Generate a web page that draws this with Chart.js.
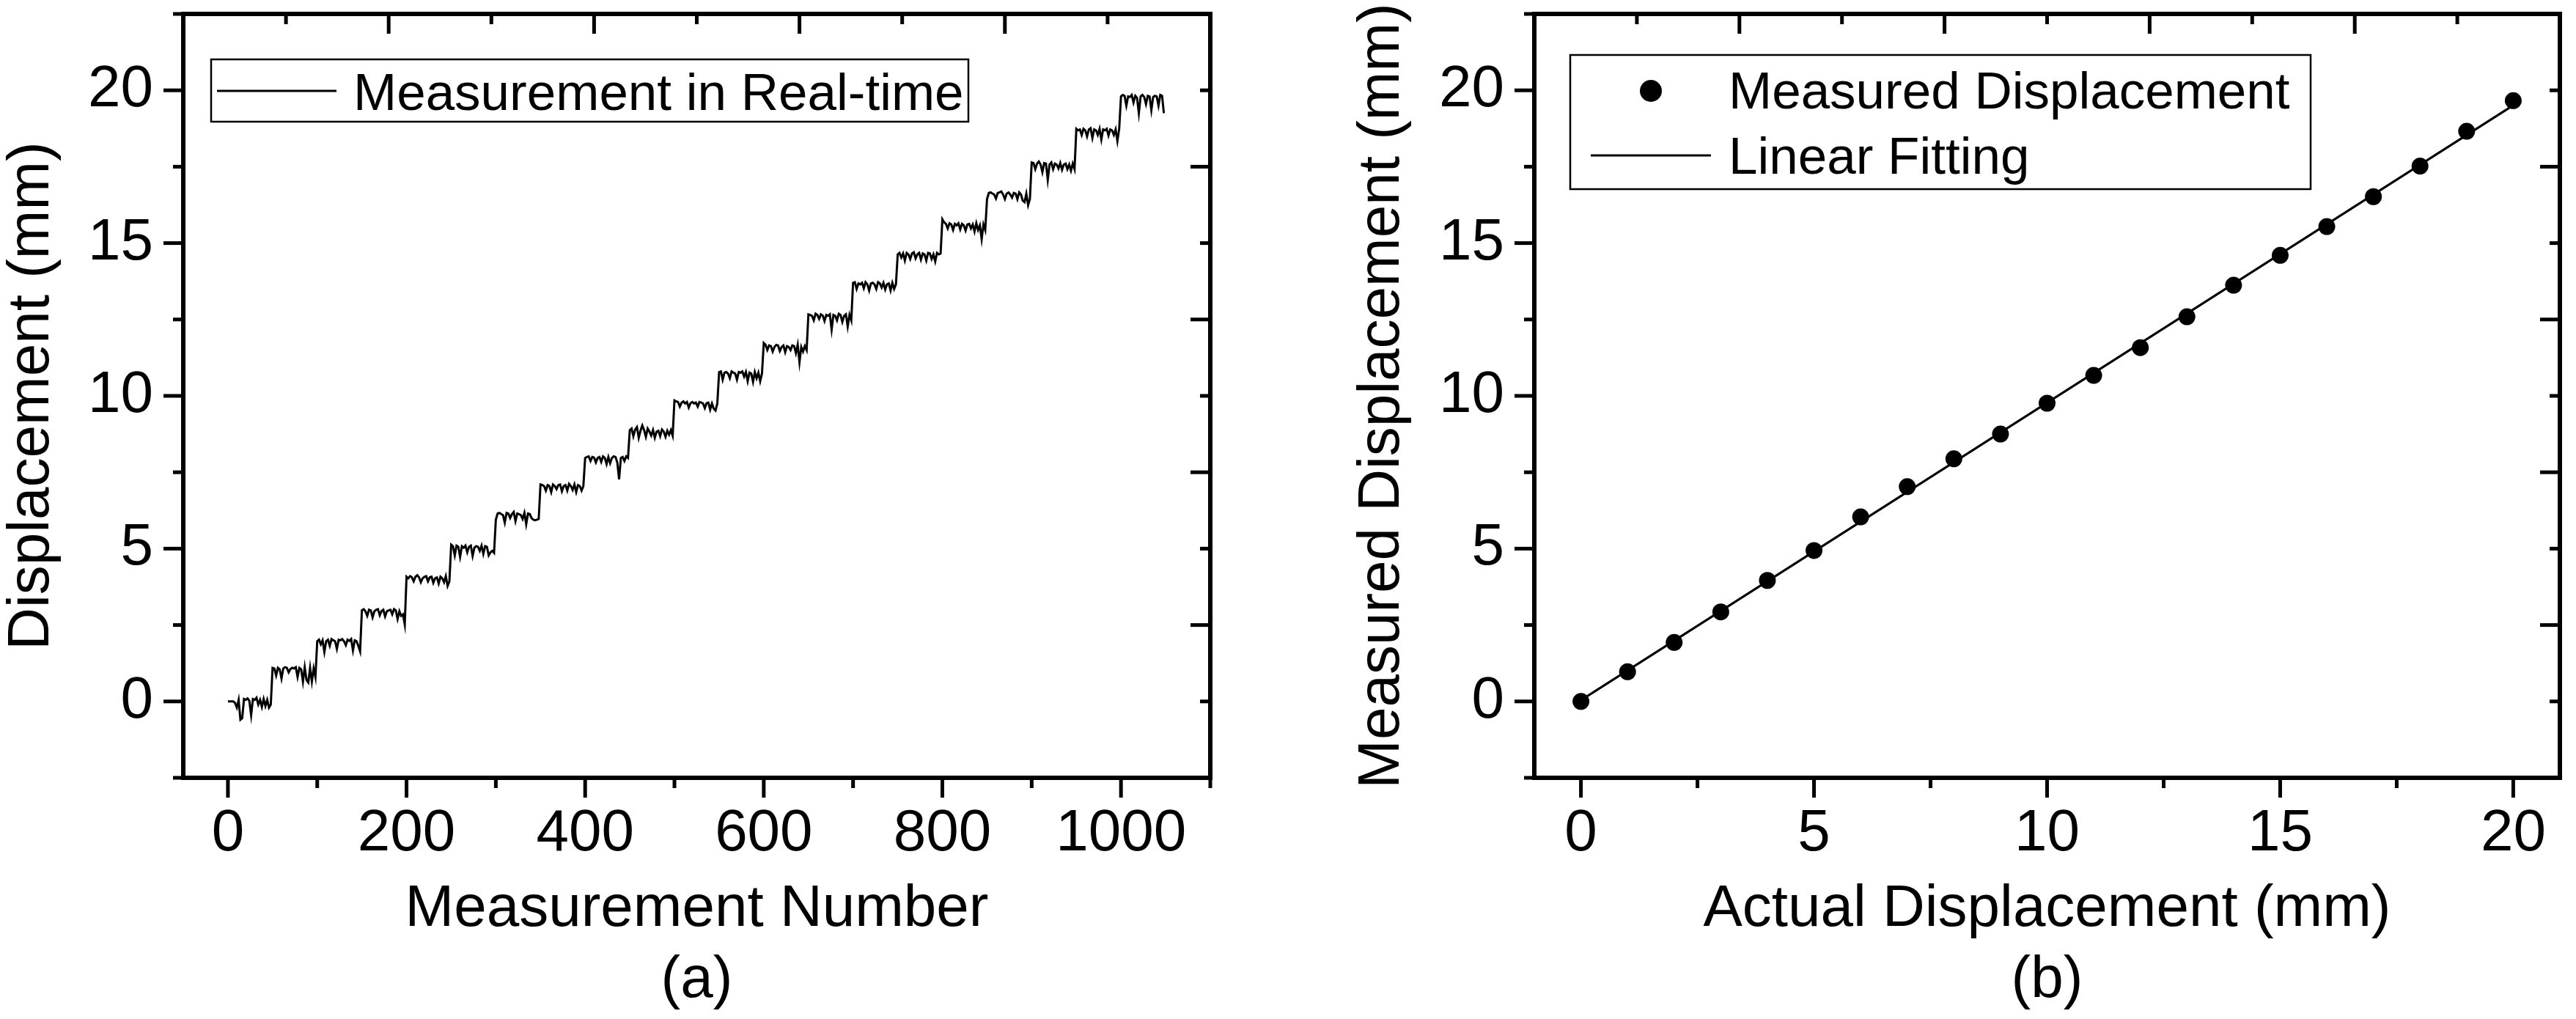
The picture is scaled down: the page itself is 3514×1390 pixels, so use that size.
<!DOCTYPE html>
<html><head><meta charset="utf-8">
<script src="https://cdn.jsdelivr.net/npm/chart.js"></script>
<style>
html,body{margin:0;padding:0;background:#fff;overflow:hidden}
#wrap{position:relative;width:3514px;height:1390px;background:#fff}
canvas{position:absolute;top:0}
#ca{left:0}#cb{left:1757px}
</style></head><body>
<div id="wrap"><canvas id="ca" width="1757" height="1390"></canvas><canvas id="cb" width="1757" height="1390"></canvas></div>
<script>
// ---------- data ----------
// Panel (a): plateau level of each 50-measurement step (mm)
const stepLevels = [0, 1.0, 1.92, 2.9, 3.98, 4.98, 6.05, 7.0, 7.92, 8.78, 9.7, 10.68, 11.55, 12.57, 13.6, 14.58, 15.53, 16.54, 17.52, 18.64, 19.7];
// Panel (a): readings along each plateau, every 2nd measurement, as deviation in 0.01 mm
const stepNoise = [
  [0,0,0,0,-5,-20,5,-60,-55,8,5,10,2,-45,8,5,12,-10,5,-18,8,-15,5,-20,-10],
  [10,8,-15,10,5,-25,8,12,10,-5,6,10,8,12,-20,10,5,-35,12,-30,-38,10,-35,8,-20],
  [5,10,-5,8,-30,5,10,-10,12,8,5,-20,10,8,12,5,-8,10,6,12,-25,8,5,-10,-28],
  [8,12,5,-10,10,8,-15,5,10,12,-8,6,10,-12,5,8,10,-5,12,8,-20,5,-10,-5,-38],
  [10,5,12,8,-5,10,15,8,-8,5,10,12,-5,8,10,-10,5,8,-12,10,5,-8,12,-20,-5],
  [15,10,-20,12,8,-25,10,5,12,-10,8,12,-22,5,10,8,-5,12,-15,10,8,-20,-10,-5,-12],
  [-10,10,12,8,5,-20,12,10,-5,8,15,-15,10,8,5,-8,12,-25,10,8,-5,-10,-12,-10,-8],
  [10,8,5,-10,8,5,-15,10,5,-5,8,10,-12,5,8,-10,12,5,-8,10,-15,8,5,-10,5],
  [5,8,10,-5,8,6,-10,5,8,-8,10,5,-15,8,-12,5,10,8,-10,-65,5,8,-5,10,5],
  [10,15,-10,12,20,-15,8,25,10,-12,15,5,-8,10,-15,5,8,-10,12,5,-12,8,-5,10,-8],
  [15,12,10,-5,8,12,5,10,-8,6,10,5,8,-5,10,8,5,-10,6,8,-15,5,-12,-18,5],
  [10,12,-15,8,10,5,-10,12,8,5,-15,10,8,12,-5,10,-20,8,5,-22,10,-10,8,-20,5],
  [18,12,-5,10,8,-10,5,12,10,-8,5,10,-12,8,5,-5,10,8,-15,12,-45,5,-10,8,-5],
  [10,8,5,-10,12,8,-5,10,6,-12,8,5,10,-40,8,5,-10,12,8,-15,5,10,-30,8,-10],
  [10,12,-10,8,5,10,-8,12,5,-15,8,10,5,-10,12,8,-5,10,-12,5,8,-15,10,-10,5],
  [5,10,-5,8,-15,10,5,-10,8,12,-8,5,10,-12,8,5,-15,10,8,-10,5,-18,10,5,8],
  [25,15,10,-5,12,8,-10,10,5,12,-8,10,5,-12,8,10,-5,8,-15,12,-10,5,-40,8,-10],
  [-10,10,12,8,5,-8,10,12,15,5,-10,8,12,5,-5,10,8,-10,12,5,-15,-20,8,-30,-10],
  [12,10,-10,8,15,5,-20,10,8,-45,5,12,-10,8,5,-8,10,-12,5,8,-10,5,-15,8,-10],
  [10,5,8,-10,10,5,-15,8,12,-20,8,5,-10,10,-25,8,5,10,-12,8,5,-10,8,-30,10],
  [10,15,12,-20,10,8,15,-10,12,5,-45,10,15,8,-15,12,10,-35,8,12,10,-20,15,12,-45]
];
const measurementsPerStep = 50;
const sampleStep = 2;
// Panel (b)
const actualDisp = [0,1,2,3,4,5,6,7,8,9,10,11,12,13,14,15,16,17,18,19,20];
const measuredDisp = [0, 0.97, 1.93, 2.93, 3.96, 4.94, 6.04, 7.03, 7.94, 8.75, 9.76, 10.67, 11.58, 12.59, 13.62, 14.6, 15.54, 16.52, 17.52, 18.66, 19.66];
const fitX = [0, 20];
const fitY = [0.04, 19.51];
// tick labels
const aXTicks = [0, 200, 400, 600, 800, 1000];
const aXMinor = [100, 300, 500, 700, 900, 1100];
const yTicks = [0, 5, 10, 15, 20];
const yMinor = [-2.5, 2.5, 7.5, 12.5, 17.5, 22.5];
const bXTicks = [0, 5, 10, 15, 20];
const bXMinor = [2.5, 7.5, 12.5, 17.5];
const mirrorFractions = [0.1, 0.2, 0.3, 0.4, 0.5, 0.6, 0.7, 0.8, 0.9];
// texts
const titleA = {x: 'Measurement Number', y: 'Displacement (mm)', panel: '(a)', series: 'Measurement in Real-time'};
const titleB = {x: 'Actual Displacement (mm)', y: 'Measured Displacement (mm)', panel: '(b)', s1: 'Measured Displacement', s2: 'Linear Fitting'};

// ---------- build ----------
const FONT = "'Liberation Sans', Arial, Helvetica, sans-serif";
Chart.defaults.font.family = FONT;
Chart.defaults.color = '#000';

const realtime = [];
stepLevels.forEach((lvl, k) => stepNoise[k].forEach((d, j) => {
  realtime.push({x: k * measurementsPerStep + j * sampleStep, y: +(lvl + d / 100).toFixed(2)});
}));
const measuredPts = actualDisp.map((x, i) => ({x, y: measuredDisp[i]}));
const fitPts = fitX.map((x, i) => ({x, y: fitY[i]}));

const framePlugin = {
  id: 'frame',
  afterDatasetsDraw(chart, args, o) {
    const {ctx, chartArea: a, scales: {x: X, y: Y}} = chart;
    ctx.save();
    ctx.strokeStyle = '#000';
    ctx.lineCap = 'butt';
    ctx.lineWidth = o.tickWidth;
    const v = (px, y0, len) => { ctx.beginPath(); ctx.moveTo(px, y0); ctx.lineTo(px, y0 + len); ctx.stroke(); };
    const h = (py, x0, len) => { ctx.beginPath(); ctx.moveTo(x0, py); ctx.lineTo(x0 + len, py); ctx.stroke(); };
    o.xMajor.forEach(t => v(X.getPixelForValue(t), a.bottom, o.major));
    o.xMinor.forEach(t => v(X.getPixelForValue(t), a.bottom, o.minor));
    o.yMajor.forEach(t => h(Y.getPixelForValue(t), a.left, -o.major));
    o.yMinor.forEach(t => h(Y.getPixelForValue(t), a.left, -o.minor));
    mirrorFractions.forEach((f, i) => {
      const len = (i % 2 === 1) ? o.major : o.minor;
      v(X.getPixelForValue(X.min + f * (X.max - X.min)), a.top, len);
      h(Y.getPixelForValue(Y.max - f * (Y.max - Y.min)), a.right, -len);
    });
    ctx.lineWidth = o.axisWidth;
    ctx.strokeRect(a.left, a.top, a.right - a.left, a.bottom - a.top);
    ctx.restore();
  }
};

const boxLegend = {
  id: 'boxLegend',
  afterDraw(chart, args, o) {
    const {ctx} = chart;
    ctx.save();
    ctx.strokeStyle = '#000'; ctx.fillStyle = '#000';
    ctx.lineWidth = o.boxWidth;
    const [x0, y0, x1, y1] = o.box;
    ctx.strokeRect(x0, y0, x1 - x0, y1 - y0);
    ctx.font = o.fontSize + 'px ' + FONT;
    ctx.textBaseline = 'alphabetic'; ctx.textAlign = 'left';
    o.items.forEach(it => {
      const ds = chart.data.datasets[it.dataset];
      if (it.kind === 'line') {
        ctx.lineWidth = ds.borderWidth;
        ctx.beginPath(); ctx.moveTo(it.sx0, it.sy); ctx.lineTo(it.sx1, it.sy); ctx.stroke();
      } else {
        ctx.beginPath(); ctx.arc(it.mx, it.my, it.r, 0, Math.PI * 2); ctx.fill();
      }
      ctx.fillText(ds.label, it.tx, it.ty);
    });
    ctx.restore();
  }
};

function axisOpts(min, max, ticks, sizeKey, size, tickPad, title, titleFont, titlePad) {
  return {
    type: 'linear', min, max,
    afterBuildTicks: s => { s.ticks = ticks.map(v => ({value: v})); },
    afterFit: s => {
      s[sizeKey] = size;
      s.paddingTop = 0; s.paddingBottom = 0; s.paddingLeft = 0; s.paddingRight = 0;
    },
    grid: {display: false, drawTicks: false},
    border: {display: false},
    ticks: {autoSkip: false, maxRotation: 0, padding: tickPad, color: '#000',
            font: {size: 80, lineHeight: 1.2}, callback: v => String(v)},
    title: {display: true, text: title, color: '#000', font: titleFont, padding: titlePad}
  };
}

const common = {
  responsive: false, animation: false, devicePixelRatio: 1,
  events: [],
};

new Chart(document.getElementById('ca'), {
  type: 'scatter',
  data: {datasets: [{label: titleA.series, data: realtime, showLine: true, borderColor: '#000',
         borderWidth: 3, pointRadius: 0, tension: 0, fill: false}]},
  options: Object.assign({}, common, {
    layout: {padding: {left: 0, top: 19, right: 106, bottom: 0}},
    plugins: {
      legend: {display: false}, tooltip: {enabled: false},
      frame: {xMajor: aXTicks, xMinor: aXMinor, yMajor: yTicks, yMinor: yMinor, major: 27, minor: 14, tickWidth: 5, axisWidth: 6},
      boxLegend: {box: [288, 81, 1321, 166], boxWidth: 2.5, fontSize: 71,
        items: [{kind: 'line', dataset: 0, sx0: 296, sx1: 459, sy: 124, tx: 482, ty: 150}]}
    },
    scales: {
      x: axisOpts(-50, 1100, aXTicks, 'height', 329, 29, [titleA.x, titleA.panel], {size: 80, lineHeight: 1.21}, {top: 0, bottom: 4}),
      y: axisOpts(-2.5, 22.5, yTicks, 'width', 250, 41, titleA.y, {size: 80, lineHeight: 1}, {top: 4, bottom: 0})
    }
  }),
  plugins: [framePlugin, boxLegend]
});

new Chart(document.getElementById('cb'), {
  type: 'scatter',
  data: {datasets: [
    {label: titleB.s1, data: measuredPts, showLine: false, pointRadius: 11.5, pointBackgroundColor: '#000',
     pointBorderWidth: 0, borderColor: '#000', backgroundColor: '#000', borderWidth: 0},
    {label: titleB.s2, data: fitPts, showLine: true, borderColor: '#000', borderWidth: 3, pointRadius: 0, fill: false}
  ]},
  options: Object.assign({}, common, {
    layout: {padding: {left: 0, top: 19, right: 22, bottom: 0}},
    plugins: {
      legend: {display: false}, tooltip: {enabled: false},
      frame: {xMajor: bXTicks, xMinor: bXMinor, yMajor: yTicks, yMinor: yMinor, major: 27, minor: 14, tickWidth: 5, axisWidth: 6},
      boxLegend: {box: [385, 75, 1395, 258], boxWidth: 2.5, fontSize: 71,
        items: [{kind: 'marker', dataset: 0, mx: 495, my: 124, r: 15, tx: 601, ty: 148},
                {kind: 'line', dataset: 1, sx0: 413, sx1: 577, sy: 212, tx: 601, ty: 237}]}
    },
    scales: {
      x: axisOpts(-1, 21, bXTicks, 'height', 329, 29, [titleB.x, titleB.panel], {size: 80, lineHeight: 1.21}, {top: 0, bottom: 4}),
      y: axisOpts(-2.5, 22.5, yTicks, 'width', 336, 41, titleB.y, {size: 80, lineHeight: 1}, {top: 89, bottom: 0})
    }
  }),
  plugins: [framePlugin, boxLegend]
});
</script>
</body></html>
